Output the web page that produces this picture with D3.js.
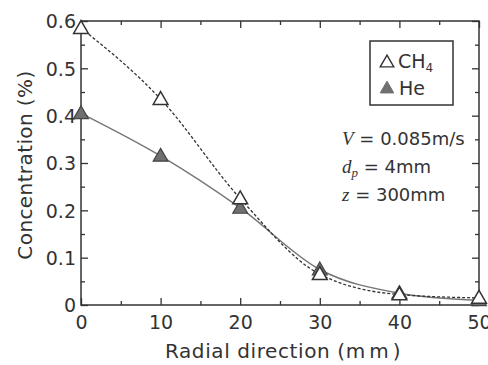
<!DOCTYPE html>
<html><head><meta charset="utf-8">
<script src="https://cdn.jsdelivr.net/npm/d3@7"></script>
<style>body{margin:0;background:#fff}svg{display:block}text{font-family:"DejaVu Sans",sans-serif;fill:#333}</style>
</head><body>
<svg id="c" width="488" height="365"></svg>
<script>
const radial = [0, 10, 20, 30, 40, 50];
const ch4 = [0.585, 0.435, 0.225, 0.065, 0.022, 0.015];
const he = [0.405, 0.315, 0.205, 0.075, 0.025, 0.010];
const xTicks = [0, 10, 20, 30, 40, 50];
const yTicks = [0, 0.1, 0.2, 0.3, 0.4, 0.5, 0.6];
const yTickLabels = ["0", "0.1", "0.2", "0.3", "0.4", "0.5", "0.6"];

const svg = d3.select("#c");
const L = 81, R = 479, T = 21, B = 305;
const x = d3.scaleLinear().domain([0, 50]).range([L, R]);
const y = d3.scaleLinear().domain([0, 0.6]).range([B, T]);
const ax = "#333";

svg.append("rect").attr("x", L).attr("y", T).attr("width", R - L).attr("height", B - T)
  .attr("fill", "none").attr("stroke", ax).attr("stroke-width", 1.5);

const minorX = d3.range(5, 50, 10);
const minorY = d3.range(0.05, 0.6, 0.1);
function tickGroup(axisGen, transform) {
  const g = svg.append("g").attr("transform", transform).call(axisGen);
  g.select(".domain").remove();
  g.selectAll("line").attr("stroke", ax).attr("stroke-width", 1.3);
  return g;
}
tickGroup(d3.axisBottom(x).tickValues(xTicks).tickSize(-7).tickFormat(d => d), `translate(0,${B})`)
  .selectAll("text").attr("font-size", 19).attr("fill", "#333").attr("dy", "0").attr("y", 24);
tickGroup(d3.axisBottom(x).tickValues(minorX).tickSize(-4).tickFormat(""), `translate(0,${B})`);
tickGroup(d3.axisTop(x).tickValues(xTicks).tickSize(-7).tickFormat(""), `translate(0,${T})`);
tickGroup(d3.axisTop(x).tickValues(minorX).tickSize(-4).tickFormat(""), `translate(0,${T})`);
tickGroup(d3.axisLeft(y).tickValues(yTicks).tickSize(-7).tickFormat((d, i) => yTickLabels[i]), `translate(${L},0)`)
  .selectAll("text").attr("font-size", 19).attr("fill", "#333").attr("x", -5).attr("dy", "0.36em");
tickGroup(d3.axisLeft(y).tickValues(minorY).tickSize(-4).tickFormat(""), `translate(${L},0)`);
tickGroup(d3.axisRight(y).tickValues(yTicks).tickSize(-7).tickFormat(""), `translate(${R},0)`);
tickGroup(d3.axisRight(y).tickValues(minorY).tickSize(-4).tickFormat(""), `translate(${R},0)`);

const xt = svg.append("text").attr("x", 283).attr("y", 358).attr("text-anchor", "middle")
  .attr("font-size", 20).attr("letter-spacing", 0.6);
xt.append("tspan").text("Radial direction (");
xt.append("tspan").attr("letter-spacing", 4).text("mm");
xt.append("tspan").text(")");
svg.append("text").attr("transform", "translate(32,165) rotate(-90)").attr("text-anchor", "middle")
  .attr("font-size", 20).attr("letter-spacing", 0.4).text("Concentration (%)");

const line = d3.line().x(d => x(d[0])).y(d => y(d[1])).curve(d3.curveMonotoneX);
svg.append("path").datum(radial.map((r, i) => [r, he[i]])).attr("d", line)
  .attr("fill", "none").attr("stroke", "#777").attr("stroke-width", 1.5);
svg.append("path").datum(radial.map((r, i) => [r, ch4[i]])).attr("d", line)
  .attr("fill", "none").attr("stroke", "#333").attr("stroke-width", 1.3).attr("stroke-dasharray", "3,2");

const tri = d3.symbol().type(d3.symbolTriangle).size(95);
svg.append("g").selectAll("path").data(radial.map((r, i) => [r, he[i]])).join("path")
  .attr("d", tri).attr("transform", d => `translate(${x(d[0])},${y(d[1]) + 1})`)
  .attr("fill", "#6f6f6f").attr("stroke", "#444").attr("stroke-width", 1.2);
svg.append("g").selectAll("path").data(radial.map((r, i) => [r, ch4[i]])).join("path")
  .attr("d", tri).attr("transform", d => `translate(${x(d[0])},${y(d[1]) + 1})`)
  .attr("fill", "#fff").attr("stroke", "#333").attr("stroke-width", 1.5);

svg.append("rect").attr("x", 370).attr("y", 41).attr("width", 83).attr("height", 64)
  .attr("fill", "#fff").attr("stroke", ax).attr("stroke-width", 1.5);
const ltri = d3.symbol().type(d3.symbolTriangle).size(80);
svg.append("path").attr("d", ltri).attr("transform", "translate(387,63)")
  .attr("fill", "#fff").attr("stroke", "#333").attr("stroke-width", 1.4);
svg.append("path").attr("d", ltri).attr("transform", "translate(387,89)")
  .attr("fill", "#6f6f6f").attr("stroke", "#6f6f6f").attr("stroke-width", 1);
const t1 = svg.append("text").attr("x", 398).attr("y", 68).attr("font-size", 19);
t1.append("tspan").text("CH");
t1.append("tspan").attr("font-size", 12).attr("dy", 4).text("4");
svg.append("text").attr("x", 399).attr("y", 95).attr("font-size", 19).text("He");

const a1 = svg.append("text").attr("x", 342).attr("y", 145).attr("font-size", 18);
a1.append("tspan").attr("font-family", "Liberation Serif, serif").attr("font-style", "italic").attr("font-size", 19).text("V");
a1.append("tspan").text(" = 0.085m/s");
const a2 = svg.append("text").attr("x", 342).attr("y", 173).attr("font-size", 18);
a2.append("tspan").attr("font-family", "Liberation Serif, serif").attr("font-style", "italic").attr("font-size", 19).text("d");
a2.append("tspan").attr("font-family", "Liberation Serif, serif").attr("font-style", "italic").attr("font-size", 13).attr("dy", 4).text("p");
a2.append("tspan").attr("dy", -4).text(" = 4mm");
const a3 = svg.append("text").attr("x", 342).attr("y", 201).attr("font-size", 18);
a3.append("tspan").attr("font-family", "Liberation Serif, serif").attr("font-style", "italic").attr("font-size", 19).text("z");
a3.append("tspan").text(" = 300mm");
</script>
</body></html>
